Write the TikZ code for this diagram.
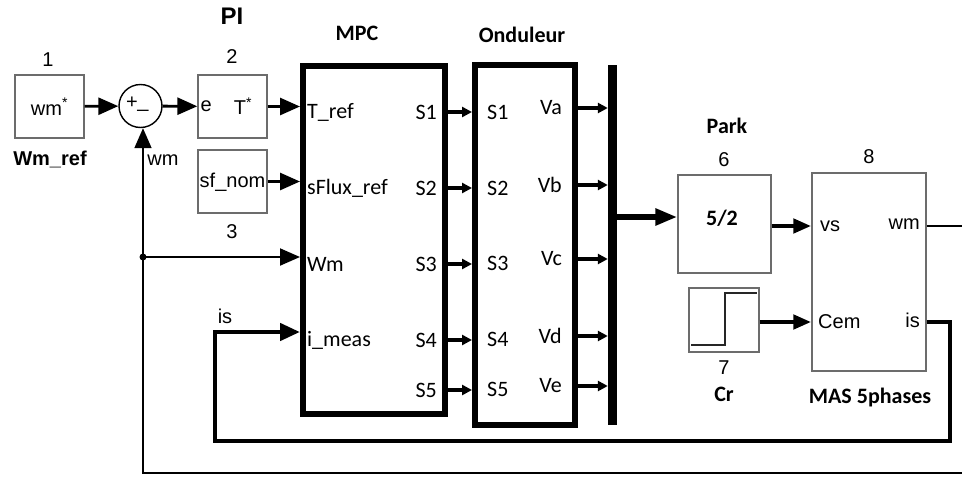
\documentclass[tikz,border=0pt]{standalone}
\usepackage{fontspec}
\setmainfont{Liberation Sans}
\newfontfamily\calfont{Carlito}
\usepackage{tikz}
\usetikzlibrary{arrows.meta,positioning,calc}

\begin{document}
\begin{tikzpicture}[
    x=1pt, y=-1pt,
    font=\fontsize{20}{22}\selectfont,
    blk/.style={rectangle, draw=gray!85!black, line width=1.4pt, fill=white, inner sep=1pt},
    fatblk/.style={rectangle, draw, line width=6pt, fill=white},
    sig/.style={-{Triangle[length=20pt,width=17pt]}, line width=2.8pt},
    fb/.style={line width=1.8pt},
    sbar/.style={-{Triangle[length=10pt,width=10pt]}, line width=4.5pt},
    busarr/.style={-{Triangle[length=22pt,width=16pt]}, line width=6pt},
    fatsig/.style={-{Triangle[length=18pt,width=14pt]}, line width=4.5pt},
    port/.style={font=\calfont\fontsize{22}{24}\selectfont, inner sep=0pt},
    ttl/.style={font=\calfont\bfseries\fontsize{22}{24}\selectfont},
    num/.style={font=\fontsize{20}{22}\selectfont}
]
\useasboundingbox (0,0) rectangle (962,477);
% ----- reference and PI -----
\node[blk, minimum width=69pt, minimum height=63pt] (wmref) at (49.5,106.5) {wm\textsuperscript{*}};
\node[num] at (48,60) {1};
\node[font=\bfseries\fontsize{20}{22}\selectfont] at (50,159) {Wm\_ref};
\node[circle, draw, line width=1.4pt, minimum size=43pt, inner sep=0pt] (sum) at (140.5,106) {};
\node[inner sep=0pt] at (132,103) {+};
\node[inner sep=0pt] at (143,109) {\_};
\node[blk, minimum width=69pt, minimum height=63pt] (pi) at (232.5,106.5) {};
\node[inner sep=0pt, anchor=west] at ([xshift=3pt]pi.west) {e};
\node[inner sep=0pt] at (243,106) {T\textsuperscript{*}};
\node[num] at (232,57) {2};
\node[font=\bfseries\fontsize{24}{26}\selectfont] at (232,16) {PI};
\node[blk, minimum width=69pt, minimum height=63pt] (sfnom) at (232.5,181.5) {};
\node[inner sep=0pt] at (232.5,182) {sf\_nom};
\node[num] at (232,232) {3};
\draw[sig] (wmref) -- (sum);
\draw[sig] (sum) -- (pi);
% ----- MPC -----
\node[fatblk, minimum width=142pt, minimum height=348pt] (mpc) at (374,240) {};
\node[ttl] at (357,33) {MPC};
\node[port, anchor=west] (tref) at (307,112) {T\_ref};
\node[port, anchor=west] (sflux) at (307,188) {sFlux\_ref};
\node[port, anchor=west] (wmin) at (307,264) {Wm};
\node[port, anchor=west] (imeas) at (307,340) {i\_meas};
\foreach \k/\yy in {1/112,2/188,3/264,4/340,5/390}
  \node[port, anchor=east] (ms\k) at (437,\yy) {S\k};
\draw[sig] (pi.east) -- (pi.east -| mpc.west);
\draw[sig] (sfnom.east) -- (sfnom.east -| mpc.west);
% ----- Onduleur -----
\node[fatblk, minimum width=100pt, minimum height=360pt] (ond) at (525,245) {};
\node[ttl] at (522,35) {Onduleur};
\foreach \k/\yy in {1/112,2/188,3/263,4/339,5/389}
  \node[port, anchor=west] (os\k) at (487,\yy) {S\k};
\foreach \v/\yy in {a/108,b/185,c/259,d/336,e/386}
  \node[port, anchor=east] (ov\v) at (562,\yy) {V\v};
\foreach \k in {1,...,5}
  \draw[sbar] (ms\k.east -| mpc.east) -- (ms\k.east -| ond.west);
\node[fill, inner sep=0pt, minimum width=9pt, minimum height=360pt] (bus) at (612.5,245) {};
\foreach \v in {a,...,e}
  \draw[sbar] (ov\v.east -| ond.east) -- (ov\v.east -| bus.west);
% ----- Park, load, machine -----
\node[blk, minimum width=93pt, minimum height=98pt] (park) at (724.5,224) {};
\node[font=\calfont\bfseries\fontsize{22}{24}\selectfont] at (722,218) {5/2};
\node[ttl] at (727,126) {Park};
\node[num] at (724,160) {6};
\node[blk, minimum width=70pt, minimum height=64pt] (step) at (724,320) {};
\draw[line width=1.4pt, gray!30!black] (691,345) -- (725,345) -- (725,293) -- (757,293);
\node[num] at (724,368) {7};
\node[ttl] at (724,394) {Cr};
\node[blk, minimum width=114pt, minimum height=198pt] (mas) at (869,272) {};
\node[num] at (869,157) {8};
\node[ttl] at (870,398) {MAS 5phases};
\node[inner sep=0pt, anchor=west] (vs) at (820,226) {vs};
\node[inner sep=0pt, anchor=east] (wmout) at (920,224) {wm};
\node[inner sep=0pt, anchor=west] (cem) at (818,322) {Cem};
\node[inner sep=0pt, anchor=east] (isout) at (920,320) {is};
\draw[busarr] (bus.east |- 0,217) -- (park.west |- 0,217);
\draw[fatsig] (park.east |- vs) -- (mas.west |- vs);
\draw[fatsig] (step.east |- cem) -- (mas.west |- cem);
% ----- feedback paths -----
\coordinate (wmend) at (962,226);
\coordinate (fbend) at (962,473);
\draw[fb] (mas.east |- wmend) -- (wmend);
\draw[fb, -{Triangle[length=20pt,width=17pt]}] (fbend) -- (143,473) -- (sum.south -| 143,0);
\fill (143,257) circle (3.5pt) coordinate (split);
\draw[sig, line width=2pt] (split) -- (split -| mpc.west);
\draw[fatsig, -{Triangle[length=20pt,width=17pt]}] (mas.east |- 0,322) -- (950,322) -- (950,441) -- (215,441) -- (215,332) -- (mpc.west |- 0,332);
\node at (225,316) {is};
\node at (163,160) {wm};
\end{tikzpicture}
\end{document}
